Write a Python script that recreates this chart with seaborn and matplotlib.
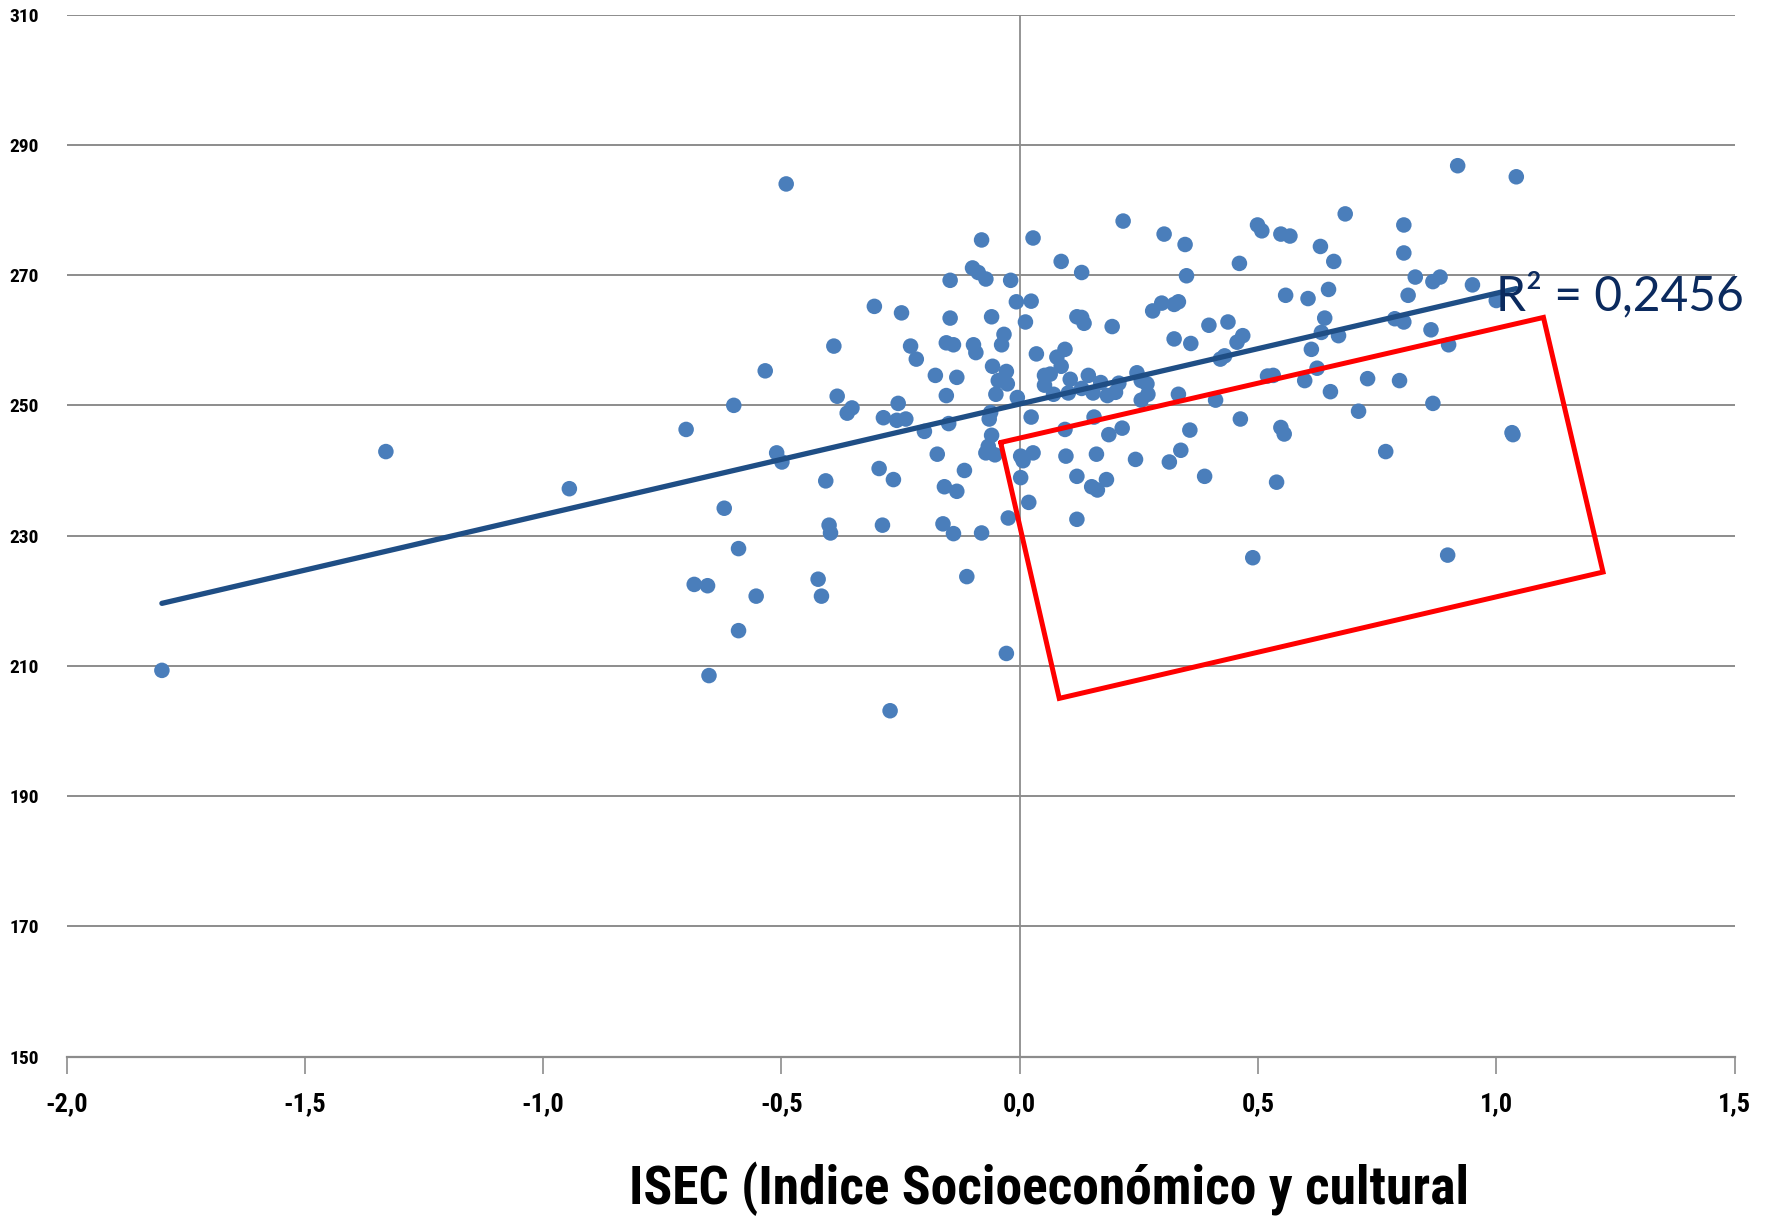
import numpy as np
import pandas as pd
import seaborn as sns
import matplotlib.pyplot as plt

# ISEC index vs score
isec = [
    -1.80, -1.33, -0.945, -0.70, -0.60, -0.534, -0.49, -0.683, -0.655, -0.62,
    -0.59, -0.59, -0.652, -0.553, -0.51, -0.499, -0.423, -0.416, -0.407, -0.40,
    -0.397, -0.39, -0.383, -0.362, -0.352, -0.305, -0.295, -0.288, -0.286, -0.272,
    -0.265, -0.258, -0.255, -0.248, -0.239, -0.229, -0.217, -0.20, -0.177, -0.173,
    -0.161, -0.158, -0.154, -0.154, -0.149, -0.146, -0.146, -0.139, -0.139, -0.132,
    -0.132, -0.116, -0.111, -0.099, -0.097, -0.092, -0.087, -0.080, -0.080, -0.071,
    -0.071, -0.066, -0.064, -0.061, -0.059, -0.059, -0.057, -0.052, -0.050, -0.045,
    -0.038, -0.033, -0.028, -0.028, -0.026, -0.024, -0.019, -0.007, -0.005, 0.002,
    0.002, 0.007, 0.012, 0.019, 0.024, 0.024, 0.028, 0.028, 0.035, 0.052,
    0.052, 0.064, 0.071, 0.078, 0.087, 0.087, 0.095, 0.095, 0.097, 0.102,
    0.106, 0.120, 0.120, 0.120, 0.130, 0.130, 0.135, 0.130, 0.144, 0.151,
    0.154, 0.156, 0.161, 0.163, 0.170, 0.182, 0.184, 0.187, 0.194, 0.201,
    0.208, 0.215, 0.217, 0.243, 0.246, 0.255, 0.255, 0.267, 0.269, 0.279,
    0.298, 0.303, 0.314, 0.324, 0.324, 0.333, 0.333, 0.338, 0.347, 0.350,
    0.357, 0.359, 0.388, 0.397, 0.411, 0.421, 0.430, 0.437, 0.456, 0.461,
    0.463, 0.468, 0.489, 0.499, 0.508, 0.520, 0.532, 0.539, 0.548, 0.548,
    0.555, 0.558, 0.567, 0.598, 0.605, 0.612, 0.624, 0.631, 0.633, 0.640,
    0.648, 0.652, 0.659, 0.669, 0.683, 0.711, 0.730, 0.768, 0.787, 0.797,
    0.806, 0.806, 0.806, 0.815, 0.830, 0.863, 0.867, 0.867, 0.882, 0.898,
    0.900, 0.919, 0.950, 1.000, 1.033, 1.035, 1.042,
]
score = [
    209.3, 242.9, 237.2, 246.3, 250.0, 255.3, 284.0, 222.5, 222.3, 234.2,
    228.0, 215.4, 208.5, 220.7, 242.7, 241.3, 223.3, 220.7, 238.4, 231.6,
    230.4, 259.1, 251.4, 248.8, 249.6, 265.2, 240.3, 231.6, 248.1, 203.1,
    238.6, 247.7, 250.3, 264.2, 247.9, 259.1, 257.1, 246.0, 254.6, 242.5,
    231.8, 237.5, 251.5, 259.6, 247.2, 263.4, 269.2, 259.3, 230.3, 254.3,
    236.8, 240.0, 223.7, 271.1, 259.3, 258.1, 270.4, 275.4, 230.4, 269.4,
    242.7, 243.7, 247.9, 248.9, 263.6, 245.4, 256.0, 242.4, 251.7, 253.8,
    259.3, 260.9, 255.2, 211.9, 253.3, 232.7, 269.2, 265.9, 251.2, 242.2,
    238.9, 241.5, 262.8, 235.1, 248.2, 266.0, 242.7, 275.7, 257.9, 253.1,
    254.6, 254.8, 251.7, 257.4, 272.1, 256.0, 258.6, 246.3, 242.2, 251.9,
    254.0, 263.6, 239.1, 232.5, 263.5, 270.4, 262.6, 252.6, 254.6, 237.5,
    251.9, 248.2, 242.5, 237.0, 253.5, 238.6, 251.5, 245.5, 262.1, 252.0,
    253.4, 246.5, 278.3, 241.7, 255.0, 250.8, 253.8, 253.3, 251.7, 264.5,
    265.7, 276.3, 241.3, 260.2, 265.5, 265.9, 251.7, 243.1, 274.7, 269.9,
    246.2, 259.5, 239.1, 262.3, 250.8, 257.1, 257.6, 262.8, 259.7, 271.8,
    247.9, 260.7, 226.6, 277.7, 276.8, 254.5, 254.6, 238.2, 276.3, 246.6,
    245.6, 266.9, 276.0, 253.8, 266.4, 258.6, 255.7, 274.4, 261.2, 263.4,
    267.8, 252.1, 272.1, 260.7, 279.4, 249.1, 254.1, 242.9, 263.3, 253.8,
    277.7, 273.4, 262.8, 266.9, 269.7, 261.6, 269.0, 250.3, 269.7, 227.0,
    259.3, 286.8, 268.5, 266.1, 245.8, 245.5, 285.1,
]

# red highlight box drawn on the chart (corners, data units)
box_x = [-0.040, 1.099, 1.224, 0.083, -0.040]
box_y = [244.3, 263.5, 224.4, 205.0, 244.3]

r2_label = "R² = 0,2456"
x_title = "ISEC (Indice Socioeconómico y cultural"
x_ticks = [-2.0, -1.5, -1.0, -0.5, 0.0, 0.5, 1.0, 1.5]
y_ticks = [150, 170, 190, 210, 230, 250, 270, 290, 310]

df = pd.DataFrame({"isec": isec, "score": score})

sns.set_theme(style="white")
plt.rcParams['font.family'] = ['Roboto Condensed', 'Roboto', 'DejaVu Sans']

fig = plt.figure(figsize=(17.66, 12.20), dpi=100)
ax = fig.add_axes([0.0377, 0.134, 0.9445, 0.854])

sns.scatterplot(data=df, x="isec", y="score", ax=ax, s=125, color="#4a7ebb",
                edgecolor="none", zorder=3)
sns.regplot(data=df, x="isec", y="score", ax=ax, scatter=False, ci=None,
            line_kws={"color": "#1f4e85", "lw": 3.8, "zorder": 4})
ax.plot(box_x, box_y, color="#ff0000", lw=3.6, zorder=5, solid_joinstyle="miter")

ax.set_xlim(-2.0, 1.5)
ax.set_ylim(150, 310)
ax.set_xticks(x_ticks)
ax.set_xticklabels([f"{t:.1f}".replace(".", ",") for t in x_ticks])
ax.set_yticks(y_ticks)
ax.set_yticklabels([str(t) for t in y_ticks])
ax.grid(axis="y", color="#8c8c8c", lw=1.4)
ax.axvline(0, color="#8c8c8c", lw=1.3, zorder=1)
ax.set_axisbelow(True)

for side in ["left", "right", "top"]:
    ax.spines[side].set_visible(False)
ax.spines["bottom"].set_color("#8c8c8c")
ax.spines["bottom"].set_linewidth(1.6)

ax.tick_params(axis="x", bottom=True, length=12, width=1.2, color="#8c8c8c",
               labelsize=19, pad=14, labelcolor="black")
ax.tick_params(axis="y", left=False, labelsize=14, pad=14, labelcolor="black")
for lab in ax.get_xticklabels() + ax.get_yticklabels():
    lab.set_fontweight("bold")
ax.set_xlabel("")
ax.set_ylabel("")

ax.text(1.0, 266.9, r2_label, fontsize=34.5, color="#0b2a5e",
        family=["Lato", "DejaVu Sans"], va="center", ha="left", zorder=6)

fig.text(0.594, 0.026, x_title, fontsize=38.5, fontweight="bold", color="black",
         family=["Roboto Condensed", "Lato", "DejaVu Sans"],
         ha="center", va="center")

fig.savefig("out.png", dpi=100)
